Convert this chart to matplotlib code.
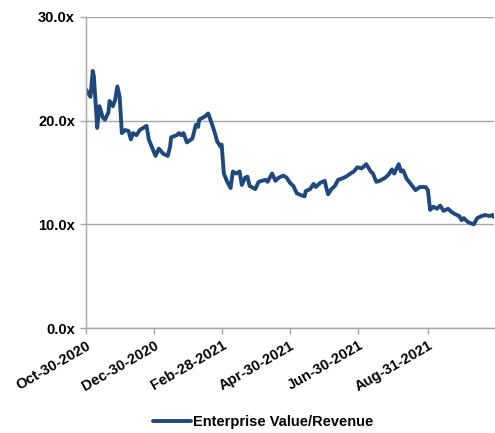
import numpy as np
import pandas as pd
import matplotlib
matplotlib.use("Agg")
import matplotlib.pyplot as plt
import matplotlib.dates as mdates

plt.rcParams['font.family'] = ['Liberation Sans', 'DejaVu Sans']
plt.rcParams['font.weight'] = 'bold'

dates = [
    "2020-10-30", "2020-11-03", "2020-11-05", "2020-11-06", "2020-11-09", "2020-11-11",
    "2020-11-14", "2020-11-16", "2020-11-19", "2020-11-20", "2020-11-23", "2020-11-25",
    "2020-11-27", "2020-11-29", "2020-12-01", "2020-12-04", "2020-12-07", "2020-12-09",
    "2020-12-11", "2020-12-14", "2020-12-17", "2020-12-23", "2020-12-25", "2020-12-28",
    "2020-12-31", "2021-01-03", "2021-01-07", "2021-01-11", "2021-01-13", "2021-01-14",
    "2021-01-19", "2021-01-21", "2021-01-23", "2021-01-25", "2021-01-28", "2021-02-01",
    "2021-02-02", "2021-02-05", "2021-02-07", "2021-02-08", "2021-02-13", "2021-02-16",
    "2021-02-19", "2021-02-22", "2021-02-24", "2021-02-27", "2021-02-28", "2021-03-02",
    "2021-03-05", "2021-03-08", "2021-03-10", "2021-03-13", "2021-03-16", "2021-03-18",
    "2021-03-21", "2021-03-23", "2021-03-25", "2021-03-30", "2021-04-02", "2021-04-05",
    "2021-04-08", "2021-04-10", "2021-04-14", "2021-04-17", "2021-04-20", "2021-04-24",
    "2021-04-27", "2021-04-30", "2021-05-03", "2021-05-06", "2021-05-10", "2021-05-13",
    "2021-05-14", "2021-05-18", "2021-05-21", "2021-05-23", "2021-05-27", "2021-05-31",
    "2021-06-01", "2021-06-03", "2021-06-06", "2021-06-09", "2021-06-12", "2021-06-15",
    "2021-06-19", "2021-06-23", "2021-06-26", "2021-06-29", "2021-07-03", "2021-07-07",
    "2021-07-11", "2021-07-13", "2021-07-16", "2021-07-19", "2021-07-24", "2021-07-27",
    "2021-07-30", "2021-08-01", "2021-08-05", "2021-08-07", "2021-08-09", "2021-08-12",
    "2021-08-15", "2021-08-20", "2021-08-24", "2021-08-29", "2021-08-31", "2021-09-02",
    "2021-09-05", "2021-09-08", "2021-09-11", "2021-09-14", "2021-09-18", "2021-09-21",
    "2021-09-24", "2021-09-28", "2021-09-30", "2021-10-02", "2021-10-06", "2021-10-11",
    "2021-10-14", "2021-10-18", "2021-10-21", "2021-10-25", "2021-10-28", "2021-10-29",
]
ev_revenue = [
    23.0, 22.3, 24.8, 24.3, 19.3, 21.4,
    20.3, 20.1, 20.8, 21.9, 21.4, 22.0,
    23.3, 22.3, 18.8, 19.1, 19.0, 18.2,
    18.8, 18.6, 19.1, 19.5, 18.2, 17.4,
    16.6, 17.3, 16.8, 16.6, 17.5, 18.4,
    18.6, 18.8, 18.6, 18.8, 17.9, 18.2,
    18.3, 19.6, 19.4, 20.1, 20.4, 20.7,
    19.8, 18.8, 18.0, 17.5, 17.7, 14.9,
    14.1, 13.5, 15.1, 14.9, 15.1, 13.8,
    14.5, 14.6, 13.7, 13.4, 14.1, 14.2,
    14.3, 14.1, 14.9, 14.2, 14.5, 14.7,
    14.5, 14.0, 13.7, 13.0, 12.8, 12.7,
    13.2, 13.4, 13.9, 13.6, 14.0, 14.2,
    13.7, 12.9, 13.4, 13.7, 14.3, 14.4,
    14.6, 14.9, 15.1, 15.5, 15.4, 15.8,
    15.1, 14.9, 14.1, 14.2, 14.5, 14.8,
    15.3, 14.9, 15.8, 15.1, 15.2, 14.4,
    14.0, 13.3, 13.6, 13.6, 13.3, 11.4,
    11.7, 11.5, 11.8, 11.3, 11.5, 11.2,
    11.0, 10.8, 10.4, 10.6, 10.2, 10.0,
    10.6, 10.8, 10.9, 10.8, 10.9, 10.7,
]
tick_dates = ["2020-10-30", "2020-12-30", "2021-02-28", "2021-04-30", "2021-06-30", "2021-08-31"]
tick_labels = ["Oct-30-2020", "Dec-30-2020", "Feb-28-2021", "Apr-30-2021", "Jun-30-2021", "Aug-31-2021"]
y_ticks = [0, 10, 20, 30]

x = pd.to_datetime(dates)

fig = plt.figure(figsize=(4.95, 4.33), dpi=100)
ax = fig.add_axes([86 / 495, 1 - 328 / 433, 408 / 495, 311 / 433])

ax.plot(x, ev_revenue, color='#1f497d', linewidth=2.8, label='Enterprise Value/Revenue',
        solid_joinstyle='round', solid_capstyle='round')

ax.set_ylim(0, 30)
ax.set_yticks(y_ticks)
ax.set_yticklabels(["%.1fx" % v for v in y_ticks])
ax.set_xlim(pd.Timestamp("2020-10-30"), pd.Timestamp("2021-10-29"))
ax.set_xticks(pd.to_datetime(tick_dates))
ax.set_xticklabels(tick_labels, rotation=30, ha='right', rotation_mode='anchor')

ax.grid(axis='y', color='#a6a6a6', linewidth=1)
ax.set_axisbelow(True)
for s in ['top', 'right']:
    ax.spines[s].set_visible(False)
for s in ['left', 'bottom']:
    ax.spines[s].set_color('#a6a6a6')
    ax.spines[s].set_linewidth(1)
ax.tick_params(axis='both', colors='#a6a6a6', labelcolor='black', labelsize=10.5,
               length=4, width=1, direction='out')
ax.tick_params(axis='y', pad=4)
for lbl in ax.get_xticklabels() + ax.get_yticklabels():
    lbl.set_fontweight('bold')

fig.legend(loc='center', bbox_to_anchor=(263 / 495, 1 - 422 / 433), frameon=False,
           handlelength=2.6, handletextpad=0.15, prop={'size': 10.5, 'weight': 'bold'})

fig.savefig("out.png", dpi=100)
